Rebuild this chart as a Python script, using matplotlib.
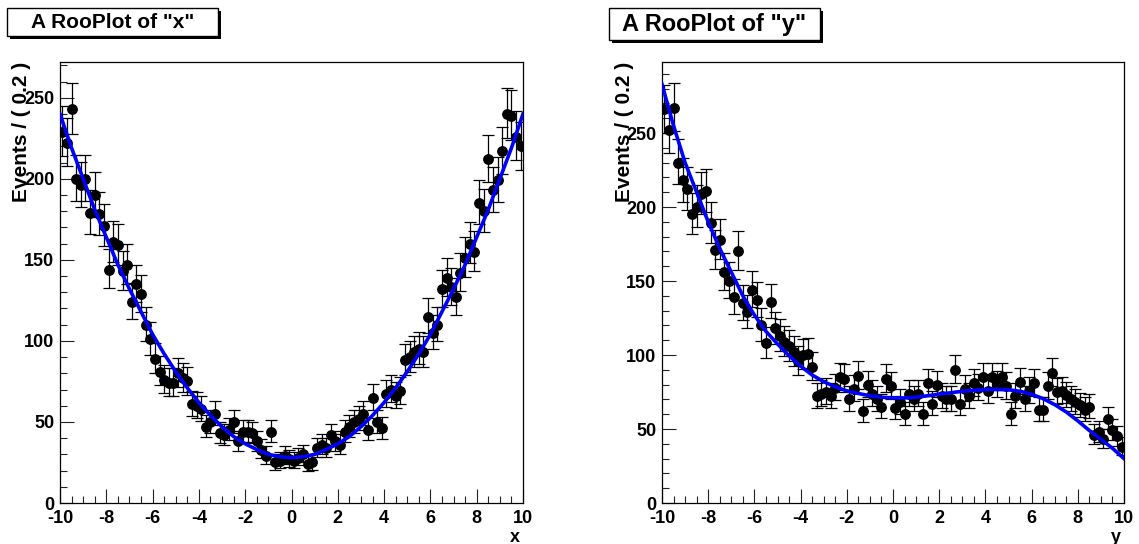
import numpy as np
import matplotlib
matplotlib.use('Agg')
import matplotlib.pyplot as plt
from matplotlib.patches import Rectangle
from matplotlib.ticker import MultipleLocator

plt.rcParams['font.family'] = ['Liberation Sans', 'DejaVu Sans']
plt.rcParams['font.weight'] = 'bold'
plt.rcParams['axes.unicode_minus'] = False

W, H = 1139, 544

# 100 bins of width 0.2 on [-10, 10]
bin_centers = np.linspace(-9.9, 9.9, 100)
# pdf curves sampled every 0.5
curve_x = np.linspace(-10, 10, 41)

x_counts = [
    229, 222, 243, 200, 196, 200, 179, 190, 178, 171,
    144, 161, 159, 143, 147, 124, 135, 129, 110, 101,
    89, 81, 76, 74, 74, 80, 77, 75, 61, 60,
    58, 47, 50, 55, 43, 42, 45, 50, 38, 44,
    44, 43, 38, 33, 29, 44, 25, 26, 29, 27,
    26, 28, 30, 24, 25, 34, 36, 34, 42, 38,
    36, 44, 47, 50, 52, 55, 45, 65, 50, 46,
    67, 70, 66, 69, 88, 90, 93, 95, 93, 115,
    105, 110, 132, 139, 133, 127, 142, 151, 160, 155,
    185, 180, 212, 193, 199, 217, 240, 239, 226, 220,
]

y_counts = [
    266, 252, 267, 230, 218, 212, 195, 200, 209, 211,
    189, 171, 178, 156, 150, 139, 170, 135, 129, 144,
    137, 120, 108, 136, 118, 113, 109, 106, 102, 96,
    100, 101, 92, 72, 74, 75, 72, 78, 85, 84,
    70, 77, 86, 62, 80, 74, 70, 65, 84, 79,
    64, 68, 60, 74, 70, 74, 60, 81, 67, 80,
    72, 70, 70, 90, 67, 77, 72, 81, 78, 85,
    76, 85, 80, 85, 79, 60, 72, 82, 70, 76,
    81, 63, 63, 79, 88, 75, 76, 73, 70, 68,
    66, 63, 65, 46, 48, 43, 57, 49, 45, 38,
]

x_curve = [
    240, 219, 200, 181, 164, 147, 132, 118, 104, 92, 81,
    71, 62, 54, 47, 41, 36.5, 33, 30, 28.5, 28,
    28.5, 30, 33, 36.5, 41, 47, 54, 62, 71, 81,
    92, 104, 118, 132, 147, 164, 181, 200, 219, 240,
]

y_curve = [
    283, 255, 230, 210, 190, 172, 156, 140, 127, 116, 107.5,
    99.5, 92.5, 86.5, 82, 78.5, 75.8, 74, 72.5, 71.5, 71,
    71, 71.5, 72.5, 73.5, 74.5, 75.5, 76.2, 76.6, 76.8, 76.5,
    75.5, 73.5, 70.5, 66.5, 61.5, 55.5, 49, 43, 37, 30,
]

fig = plt.figure(figsize=(W / 100, H / 100), dpi=100)


def title_box(x0, y0, x1, y1, text, size):
    # white box with a black drop shadow, pixel coords from the top left
    fig.add_artist(Rectangle((x0 / W + 3 / W, 1 - (y1 + 3) / H), (x1 - x0) / W, (y1 - y0) / H,
                             transform=fig.transFigure, facecolor='black', edgecolor='none'))
    fig.add_artist(Rectangle((x0 / W, 1 - y1 / H), (x1 - x0) / W, (y1 - y0) / H,
                             transform=fig.transFigure, facecolor='white', edgecolor='black', lw=1))
    fig.text((x0 + x1) / 2 / W, 1 - (y0 + y1) / 2 / H, text, ha='center', va='center',
             fontsize=size, fontweight='bold')


def rooplot(left, right, counts, curve, var, ylab_x):
    top, bottom = 62, 503
    ax = fig.add_axes([left / W, 1 - bottom / H, (right - left) / W, (bottom - top) / H])
    counts = np.array(counts, dtype=float)
    err_lo = np.sqrt(counts + 0.25) - 0.5
    err_hi = np.sqrt(counts + 0.25) + 0.5
    ax.errorbar(bin_centers, counts, yerr=[err_lo, err_hi], fmt='o', color='black',
                ms=6.8, elinewidth=0.9, capsize=4.5, capthick=0.9, zorder=3)
    ax.plot(curve_x, curve, color='#0000ff', lw=2.6, zorder=5)
    ax.set_xlim(-10, 10)
    ax.set_ylim(0, 1.05 * (counts + err_hi).max())
    ax.xaxis.set_major_locator(MultipleLocator(2))
    ax.xaxis.set_minor_locator(MultipleLocator(0.5))
    ax.yaxis.set_major_locator(MultipleLocator(50))
    ax.yaxis.set_minor_locator(MultipleLocator(10))
    ax.tick_params(which='both', direction='in', top=False, right=False,
                   labelsize=13, width=0.8, color='#222222')
    ax.tick_params(axis='x', pad=5)
    ax.tick_params(axis='y', pad=4)
    ax.tick_params(which='major', length=10)
    ax.tick_params(which='minor', length=5)
    for s in ax.spines.values():
        s.set_linewidth(0.9)
    fig.text(ylab_x / W, 1 - 62 / H, 'Events / ( 0.2 )', rotation=90, ha='center', va='top',
             fontsize=15, fontweight='bold')
    fig.text((right - 8) / W, 1 - 537 / H, var, ha='center', va='center',
             fontsize=13, fontweight='bold')
    return ax


rooplot(60, 523, x_counts, x_curve, 'x', 22)
rooplot(662, 1124, y_counts, y_curve, 'y', 625)

title_box(7, 8, 218, 36, 'A RooPlot of "x"', 15)
title_box(609, 8, 820, 40, 'A RooPlot of "y"', 17)

fig.savefig('out.png', dpi=100)
